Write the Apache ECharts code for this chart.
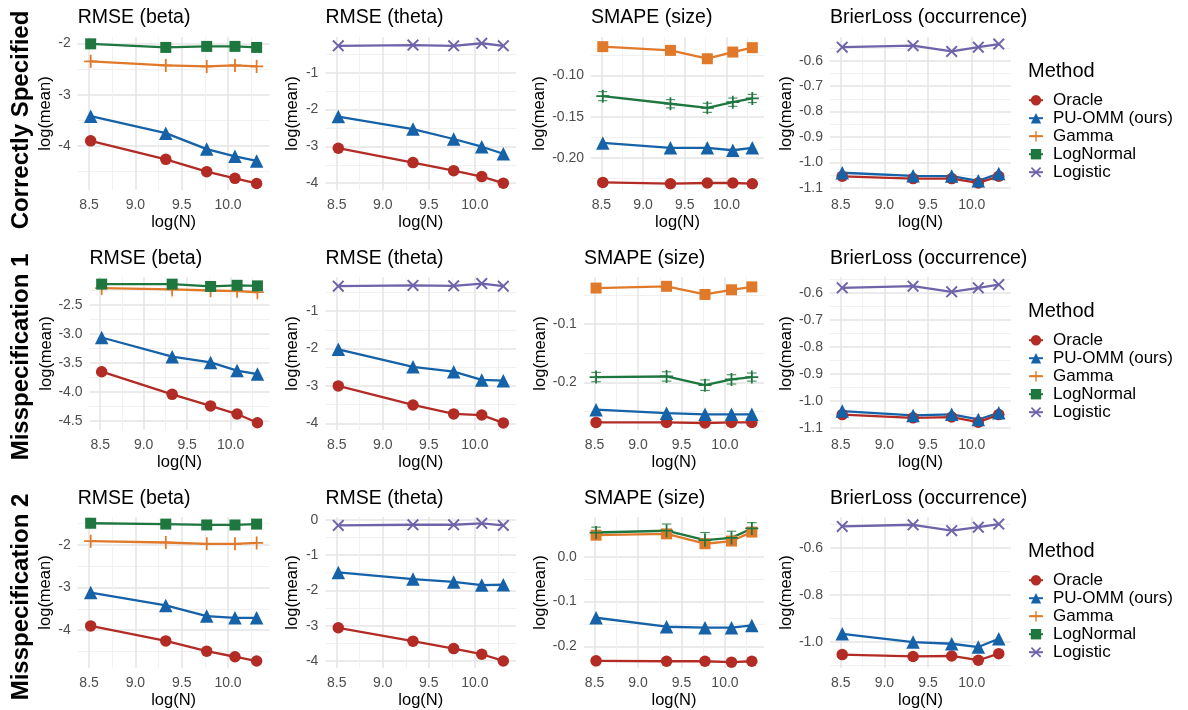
<!DOCTYPE html>
<html><head><meta charset="utf-8">
<script src="https://cdn.jsdelivr.net/npm/echarts@6/dist/echarts.min.js"></script>
<style>html,body{margin:0;padding:0;background:#fff}#c{width:1188px;height:710px}</style>
</head><body><div id="c"></div>
<script>
// ---------------- DATA ----------------
const logN = [8.517, 9.328, 9.770, 10.075, 10.309];
const methods = ['Oracle', 'PU-OMM (ours)', 'Gamma', 'LogNormal', 'Logistic'];
const rowLabels = ['Correctly Specified', 'Misspecification 1', 'Misspecification 2'];
const panelTitles = ['RMSE (beta)', 'RMSE (theta)', 'SMAPE (size)', 'BrierLoss (occurrence)'];
const xTitle = 'log(N)';
const yTitle = 'log(mean)';
const legendTitle = 'Method';

// Correctly Specified
const oracle_cs_beta = [-3.90, -4.26, -4.50, -4.63, -4.73];
const puomm_cs_beta = [-3.42, -3.75, -4.06, -4.20, -4.29];
const gamma_cs_beta = [-2.35, -2.43, -2.45, -2.43, -2.45];
const gammaErr_cs_beta = [0.12, 0.13, 0.13, 0.12, 0.13];
const lognormal_cs_beta = [-2.01, -2.08, -2.06, -2.06, -2.08];
const oracle_cs_theta = [-3.05, -3.44, -3.66, -3.82, -4.00];
const puomm_cs_theta = [-2.19, -2.53, -2.80, -3.01, -3.20];
const logistic_cs_theta = [-0.27, -0.25, -0.27, -0.20, -0.27];
const oracle_cs_size = [-0.2295, -0.2311, -0.2302, -0.2302, -0.2311];
const puomm_cs_size = [-0.1817, -0.1877, -0.1877, -0.1906, -0.1877];
const gamma_cs_size = [-0.0652, -0.0697, -0.0798, -0.0717, -0.0664];
const lognormal_cs_size = [-0.1251, -0.1343, -0.1392, -0.1324, -0.1279];
const lognormalErr_cs_size = [0.0055, 0.005, 0.0055, 0.005, 0.005];
const oracle_cs_brier = [-1.055, -1.064, -1.064, -1.081, -1.055];
const puomm_cs_brier = [-1.041, -1.053, -1.054, -1.073, -1.044];
const logistic_cs_brier = [-0.546, -0.540, -0.563, -0.546, -0.534];

// Misspecification 1
const oracle_m1_beta = [-3.65, -4.04, -4.24, -4.38, -4.53];
const puomm_m1_beta = [-3.06, -3.39, -3.49, -3.63, -3.69];
const gamma_m1_beta = [-2.21, -2.23, -2.25, -2.26, -2.28];
const gammaErr_m1_beta = [0.12, 0.14, 0.12, 0.12, 0.13];
const lognormal_m1_beta = [-2.14, -2.14, -2.18, -2.16, -2.17];
const oracle_m1_theta = [-3.00, -3.51, -3.75, -3.78, -3.99];
const puomm_m1_theta = [-2.02, -2.49, -2.62, -2.84, -2.86];
const logistic_m1_theta = [-0.33, -0.31, -0.32, -0.26, -0.33];
const oracle_m1_size = [-0.269, -0.269, -0.270, -0.269, -0.269];
const puomm_m1_size = [-0.247, -0.253, -0.255, -0.255, -0.255];
const gamma_m1_size = [-0.038, -0.035, -0.049, -0.041, -0.036];
const lognormal_m1_size = [-0.191, -0.190, -0.205, -0.195, -0.191];
const lognormalErr_m1_size = [0.008, 0.008, 0.009, 0.008, 0.007];
const oracle_m1_brier = [-1.051, -1.063, -1.060, -1.079, -1.051];
const puomm_m1_brier = [-1.038, -1.054, -1.050, -1.069, -1.044];
const logistic_m1_brier = [-0.581, -0.575, -0.596, -0.581, -0.569];

// Misspecification 2
const oracle_m2_beta = [-3.90, -4.25, -4.49, -4.62, -4.72];
const puomm_m2_beta = [-3.12, -3.42, -3.67, -3.71, -3.71];
const gamma_m2_beta = [-1.92, -1.95, -1.98, -1.98, -1.96];
const gammaErr_m2_beta = [0.12, 0.15, 0.14, 0.14, 0.15];
const lognormal_m2_beta = [-1.50, -1.52, -1.54, -1.54, -1.52];
const oracle_m2_theta = [-3.06, -3.44, -3.65, -3.81, -4.00];
const puomm_m2_theta = [-1.49, -1.68, -1.76, -1.85, -1.84];
const logistic_m2_theta = [-0.16, -0.14, -0.14, -0.10, -0.16];
const oracle_m2_size = [-0.232, -0.233, -0.233, -0.235, -0.233];
const puomm_m2_size = [-0.136, -0.156, -0.158, -0.158, -0.153];
const gamma_m2_size = [0.048, 0.051, 0.029, 0.035, 0.055];
const lognormal_m2_size = [0.054, 0.058, 0.037, 0.042, 0.063];
const lognormalErr_m2_size = [0.012, 0.015, 0.017, 0.015, 0.013];
const oracle_m2_brier = [-1.053, -1.061, -1.059, -1.077, -1.049];
const puomm_m2_brier = [-0.965, -1.000, -1.007, -1.021, -0.986];
const logistic_m2_brier = [-0.509, -0.502, -0.527, -0.512, -0.499];

// ---------------- STYLE / LAYOUT ----------------
const FONT = "'Liberation Sans', Arial, Helvetica, sans-serif";
const COLORS = {
  'Oracle': '#B22B25', 'PU-OMM (ours)': '#1562A8', 'Gamma': '#E07A2A',
  'LogNormal': '#1E773F', 'Logistic': '#6F63AA'
};
const PLUS = 'path://M-0.8,-6L0.8,-6L0.8,-0.8L6,-0.8L6,0.8L0.8,0.8L0.8,6L-0.8,6L-0.8,0.8L-6,0.8L-6,-0.8L-0.8,-0.8Z';
const CROSS = 'path://M-4.8,-3.7L-3.7,-4.8L0,-1.1L3.7,-4.8L4.8,-3.7L1.1,0L4.8,3.7L3.7,4.8L0,1.1L-3.7,4.8L-4.8,3.7L-1.1,0Z';
const SYM = {
  'Oracle': ['circle', 11.5], 'PU-OMM (ours)': ['triangle', 13.5], 'Gamma': [PLUS, 13],
  'LogNormal': ['rect', 11], 'Logistic': [CROSS, 12]
};

const rowTops = [37, 277, 517];
const plotH = 153;
const colRights = [269.6, 516.2, 764, 1011];
const gridLefts = [[77.7, 325.4, 591.1, 830], [89.5, 325.4, 583.9, 830], [77.7, 325.4, 583.9, 830]];
const yNameGaps = [[23, 24, 41, 32], [34.5, 24, 34, 32], [23, 24, 34, 32]];
const yRanges = [
  [[-4.857, -1.877], [-4.185, -0.03], [-0.2387, -0.0535], [-1.109, -0.506]],
  [[-4.655, -2.017], [-4.18, -0.085], [-0.282, -0.019], [-1.108, -0.541]],
  [[-4.883, -1.354], [-4.2, 0.08], [-0.248, 0.0886], [-1.11, -0.469]]
];
const yIntervals = [[1, 1, 0.05, 0.1], [0.5, 1, 0.1, 0.1], [1, 1, 0.1, 0.2]];
const yDecimals = [[0, 0, 2, 1], [1, 0, 1, 1], [0, 0, 1, 1]];
const xRange = [8.377, 10.449];
const titleY = [17.8, 258.3, 498.9];
const rowLabelY = [120, 357, 597];
const legendTitleY = [71.7, 311.7, 551.7];
const errHalfWidth = 0.055;

// panels: [row, col, lines, errorbars(name, values, errors, caps)]
const panels = [
  [0, 0, [['Oracle', oracle_cs_beta], ['PU-OMM (ours)', puomm_cs_beta], ['Gamma', gamma_cs_beta], ['LogNormal', lognormal_cs_beta]], [['Gamma', gamma_cs_beta, gammaErr_cs_beta, false]]],
  [0, 1, [['Oracle', oracle_cs_theta], ['PU-OMM (ours)', puomm_cs_theta], ['Logistic', logistic_cs_theta]], []],
  [0, 2, [['Oracle', oracle_cs_size], ['PU-OMM (ours)', puomm_cs_size], ['Gamma', gamma_cs_size, 'rect'], ['LogNormal', lognormal_cs_size, PLUS]], [['LogNormal', lognormal_cs_size, lognormalErr_cs_size, true]]],
  [0, 3, [['Oracle', oracle_cs_brier], ['PU-OMM (ours)', puomm_cs_brier], ['Logistic', logistic_cs_brier]], []],
  [1, 0, [['Oracle', oracle_m1_beta], ['PU-OMM (ours)', puomm_m1_beta], ['Gamma', gamma_m1_beta], ['LogNormal', lognormal_m1_beta]], [['Gamma', gamma_m1_beta, gammaErr_m1_beta, false]]],
  [1, 1, [['Oracle', oracle_m1_theta], ['PU-OMM (ours)', puomm_m1_theta], ['Logistic', logistic_m1_theta]], []],
  [1, 2, [['Oracle', oracle_m1_size], ['PU-OMM (ours)', puomm_m1_size], ['Gamma', gamma_m1_size, 'rect'], ['LogNormal', lognormal_m1_size, PLUS]], [['LogNormal', lognormal_m1_size, lognormalErr_m1_size, true]]],
  [1, 3, [['Oracle', oracle_m1_brier], ['PU-OMM (ours)', puomm_m1_brier], ['Logistic', logistic_m1_brier]], []],
  [2, 0, [['Oracle', oracle_m2_beta], ['PU-OMM (ours)', puomm_m2_beta], ['Gamma', gamma_m2_beta], ['LogNormal', lognormal_m2_beta]], [['Gamma', gamma_m2_beta, gammaErr_m2_beta, false]]],
  [2, 1, [['Oracle', oracle_m2_theta], ['PU-OMM (ours)', puomm_m2_theta], ['Logistic', logistic_m2_theta]], []],
  [2, 2, [['Oracle', oracle_m2_size], ['PU-OMM (ours)', puomm_m2_size], ['Gamma', gamma_m2_size, 'rect'], ['LogNormal', lognormal_m2_size, PLUS]], [['LogNormal', lognormal_m2_size, lognormalErr_m2_size, true]]],
  [2, 3, [['Oracle', oracle_m2_brier], ['PU-OMM (ours)', puomm_m2_brier], ['Logistic', logistic_m2_brier]], []]
];

const grids = [], xAxes = [], yAxes = [], series = [], graphics = [], legends = [];
const majorLine = { show: true, showMinLine: false, showMaxLine: false, lineStyle: { color: '#e4e4e4', width: 1.5 } };
const minorLine = { show: true, lineStyle: { color: '#efefef', width: 0.9 } };

panels.forEach((p, i) => {
  const [r, c, lines, errs] = p;
  const left = gridLefts[r][c];
  grids.push({ left: left, top: rowTops[r], width: colRights[c] - left, height: plotH, containLabel: false });
  xAxes.push({
    type: 'value', gridIndex: i, min: xRange[0], max: xRange[1], minInterval: 0.5, maxInterval: 0.5,
    axisLine: { show: false }, axisTick: { show: false },
    axisLabel: { show: true, showMinLabel: false, showMaxLabel: false, margin: 8, color: '#4d4d4d', fontSize: 14, fontFamily: FONT, formatter: v => v.toFixed(1) },
    splitLine: majorLine, minorTick: { show: false, splitNumber: 2 }, minorSplitLine: minorLine,
    name: xTitle, nameLocation: 'middle', nameGap: 24, nameTextStyle: { color: '#000', fontSize: 16.5, fontFamily: FONT }
  });
  const dec = yDecimals[r][c];
  yAxes.push({
    type: 'value', gridIndex: i, min: yRanges[r][c][0], max: yRanges[r][c][1],
    minInterval: yIntervals[r][c], maxInterval: yIntervals[r][c],
    axisLine: { show: false }, axisTick: { show: false },
    axisLabel: { show: true, showMinLabel: false, showMaxLabel: false, margin: 7, color: '#4d4d4d', fontSize: 14, fontFamily: FONT, formatter: v => v.toFixed(dec) },
    splitLine: majorLine, minorTick: { show: false, splitNumber: 2 }, minorSplitLine: minorLine,
    name: yTitle, nameLocation: 'middle', nameRotate: 90, nameGap: yNameGaps[r][c],
    nameTextStyle: { color: '#000', fontSize: 16.5, fontFamily: FONT }
  });
  lines.forEach(([name, vals, symOverride]) => {
    const sym = SYM[name];
    series.push({
      type: 'line', name: name, xAxisIndex: i, yAxisIndex: i,
      data: logN.map((x, k) => [x, vals[k]]),
      symbol: symOverride || sym[0], symbolSize: symOverride ? (symOverride === 'rect' ? 11 : 13) : sym[1],
      showSymbol: true, animation: false, silent: true,
      lineStyle: { color: COLORS[name], width: 2.3 },
      itemStyle: { color: COLORS[name], borderWidth: 0 },
      emphasis: { disabled: true }
    });
  });
  errs.forEach(([name, vals, ev, caps]) => {
    series.push({
      type: 'custom', name: name + ' error', xAxisIndex: i, yAxisIndex: i,
      data: logN.map((x, k) => [x, vals[k], ev[k]]),
      encode: { x: 0, y: 1 }, animation: false, silent: true, z: 3,
      renderItem: (params, api) => {
        const x = api.value(0), y = api.value(1), e = api.value(2);
        const t = api.coord([x, y + e]), b = api.coord([x, y - e]);
        const st = { stroke: COLORS[name], lineWidth: 1.1, opacity: caps ? 0.85 : 0.6 };
        const children = [{ type: 'line', shape: { x1: t[0], y1: t[1], x2: b[0], y2: b[1] }, style: st }];
        if (caps) {
          const tl = api.coord([x - errHalfWidth, y + e]), tr = api.coord([x + errHalfWidth, y + e]);
          const bl = api.coord([x - errHalfWidth, y - e]), br = api.coord([x + errHalfWidth, y - e]);
          children.push({ type: 'line', shape: { x1: tl[0], y1: tl[1], x2: tr[0], y2: tr[1] }, style: st });
          children.push({ type: 'line', shape: { x1: bl[0], y1: bl[1], x2: br[0], y2: br[1] }, style: st });
        }
        return { type: 'group', children: children };
      }
    });
  });
  graphics.push({
    type: 'text', x: left, y: titleY[r],
    style: { text: panelTitles[c], fill: '#000', font: '19.5px ' + FONT, align: 'left', verticalAlign: 'middle', textAlign: 'left', textVerticalAlign: 'middle' }
  });
});

rowLabels.forEach((lab, r) => {
  graphics.push({
    type: 'text', x: 21, y: rowLabelY[r], rotation: Math.PI / 2,
    style: { text: lab, fill: '#000', font: 'bold 24px ' + FONT, align: 'center', verticalAlign: 'middle', textAlign: 'center', textVerticalAlign: 'middle' }
  });
  graphics.push({
    type: 'text', x: 1028, y: legendTitleY[r],
    style: { text: legendTitle, fill: '#000', font: '20px ' + FONT, align: 'left', verticalAlign: 'middle', textAlign: 'left', textVerticalAlign: 'middle' }
  });
  legends.push({
    orient: 'vertical', left: 1028, top: legendTitleY[r] + 20, padding: 0,
    itemWidth: 14, itemHeight: 13, itemGap: 1, selectedMode: false,
    data: methods,
    textStyle: { color: '#000', fontSize: 17, fontFamily: FONT, padding: [0, 0, 0, 5] }
  });
});

const chart = echarts.init(document.getElementById('c'), null, { renderer: 'canvas' });
chart.setOption({
  backgroundColor: '#fff',
  animation: false,
  textStyle: { fontFamily: FONT },
  grid: grids, xAxis: xAxes, yAxis: yAxes, series: series,
  legend: legends, graphic: graphics
});
</script></body></html>
